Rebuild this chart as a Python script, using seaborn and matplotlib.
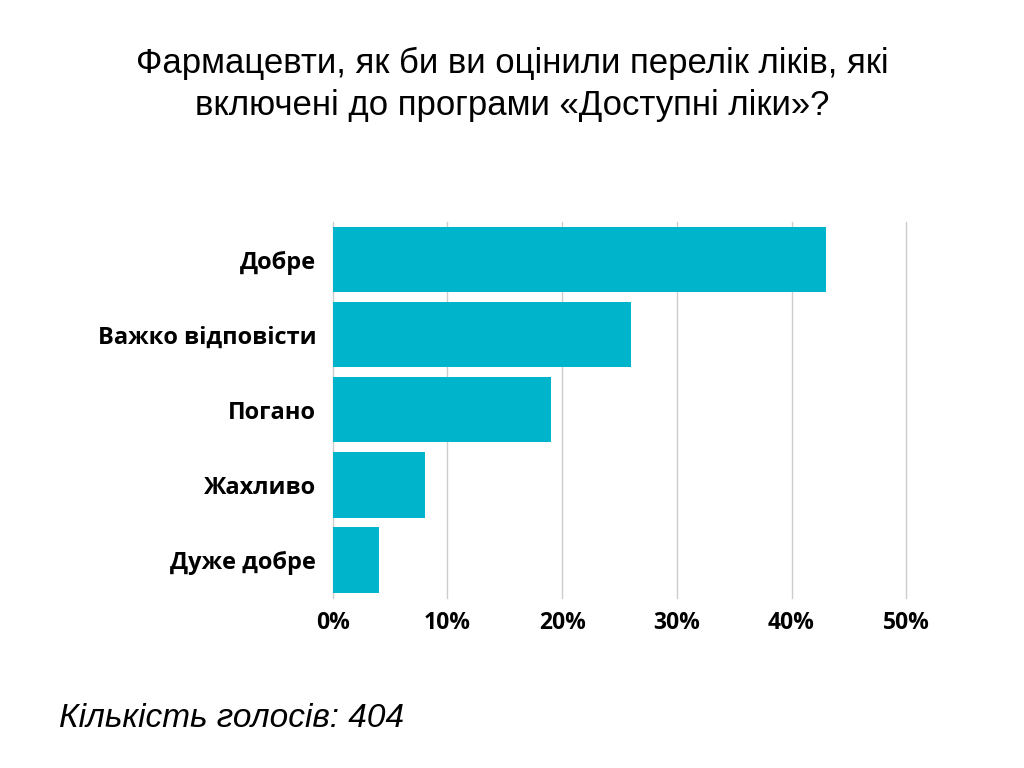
import pandas as pd
import numpy as np
import matplotlib.pyplot as plt
import seaborn as sns

def plot_survey():
    print("📈 Building chart...")

    # 1. Data
    df = pd.DataFrame({
        'answer': ['Добре', 'Важко відповісти', 'Погано', 'Жахливо', 'Дуже добре'],
        'share': [43, 26, 19, 8, 4],
    })

    # 2. Plotting
    plt.figure(figsize=(10.24, 7.68), dpi=100)
    ax = plt.axes([0.325, 0.222, 0.56, 0.489])
    sns.barplot(x='share', y='answer', data=df, color='#00b4cc', saturation=1, width=0.87, ax=ax)
    plt.xlim(0, 50)
    plt.xticks(np.arange(0, 51, 10), [f'{v}%' for v in range(0, 51, 10)],
               fontsize=16.5, fontweight='bold', family='Open Sans')
    plt.yticks(fontsize=17, fontweight='bold', family='Open Sans')
    plt.xlabel('')
    plt.ylabel('')
    for gl in ax.xaxis.get_gridlines():
        gl.set_clip_on(False)
    plt.grid(axis='x', color='#cccccc', linewidth=1)
    ax.set_axisbelow(True)
    for s in ax.spines.values():
        s.set_visible(False)
    ax.tick_params(axis='y', length=0, pad=12)
    ax.tick_params(axis='x', length=0, pad=10)

    plt.figtext(0.5, 0.89, 'Фармацевти, як би ви оцінили перелік ліків, які\nвключені до програми «Доступні ліки»?',
                ha='center', va='center', fontsize=25, family='Liberation Sans', linespacing=1.35)
    plt.figtext(0.058, 0.053, 'Кількість голосів: 404', fontsize=24, style='italic', family='Liberation Sans')

    plt.savefig('out.png', dpi=100)
    print("✅ Saved out.png")

if __name__ == "__main__":
    plot_survey()
